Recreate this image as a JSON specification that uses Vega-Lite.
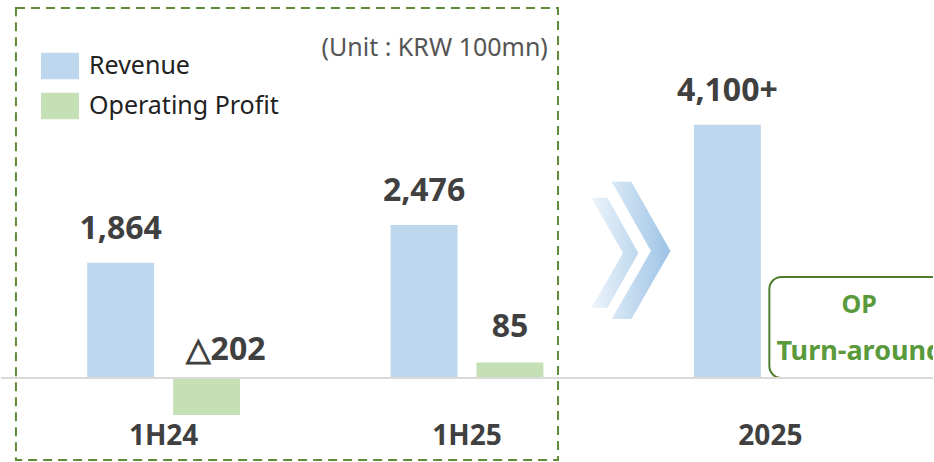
{
  "$schema": "https://vega.github.io/schema/vega-lite/v6.json",
  "width": 934,
  "height": 462,
  "autosize": {"type": "fit", "contains": "padding"},
  "padding": 0,
  "background": "white",
  "config": {"view": {"stroke": null}, "font": "Noto Sans"},
  "datasets": {
    "main": [
      {"period": "1H24", "series": "Revenue", "value": 1864, "label": "1,864"},
      {"period": "1H24", "series": "Operating Profit", "value": -202, "label": "△202"},
      {"period": "1H25", "series": "Revenue", "value": 2476, "label": "2,476"},
      {"period": "1H25", "series": "Operating Profit", "value": 85, "label": "85"},
      {"period": "2025", "series": "Revenue", "value": 4100, "label": "4,100+"}
    ]
  },
  "layer": [
    {
      "layer": [
        {
          "data": {"values": [{"name": "box"}]},
          "mark": {"type": "rect", "fillOpacity": 0, "stroke": "#5e8c3a", "strokeWidth": 2, "strokeDash": [9, 6]},
          "encoding": {
            "x": {"datum": "1H24", "type": "nominal", "bandPosition": -0.36},
            "x2": {"datum": "1H25", "bandPosition": 1.03},
            "y": {"datum": 5991, "type": "quantitative", "scale": {"domain": [-1360, 6120], "nice": false, "zero": false}, "axis": null},
            "y2": {"datum": -1328}
          }
        },
        {
          "data": {"values": [{"name": "chevron"}]},
          "mark": {
            "type": "point",
            "shape": "M-0.27,-0.99L0.01,-0.99L0.57,0L0.01,0.97L-0.27,0.97L0.29,0ZM-0.56,-0.76L-0.33,-0.76L0.11,0.03L-0.33,0.81L-0.56,0.81L-0.11,0.03Z",
            "size": 19600,
            "filled": true,
            "opacity": 1,
            "strokeWidth": 0,
            "fill": {"gradient": "linear", "x1": 0, "y1": 0, "x2": 1, "y2": 0, "stops": [{"offset": 0, "color": "#edf4fb"}, {"offset": 1, "color": "#9dc3e6"}]}
          },
          "encoding": {
            "x": {"datum": "2025", "type": "nominal", "bandPosition": -0.314},
            "y": {"datum": 2056, "type": "quantitative", "scale": {"domain": [-1360, 6120], "nice": false, "zero": false}, "axis": null}
          }
        },
        {
          "data": {"name": "main"},
          "transform": [{"filter": "datum.series === 'Revenue'"}],
          "mark": {"type": "bar"},
          "encoding": {
            "x": {
              "field": "period", "type": "nominal",
              "scale": {"domain": ["1H24", "1H25", "2025"], "paddingInner": 0.434, "paddingOuter": 0.253},
              "axis": {"orient": "bottom", "offset": -26, "domain": false, "ticks": false, "grid": false, "title": null, "labelAngle": 0, "labelAlign": "center", "bandPosition": 0.5, "labelPadding": 0, "labelBaseline": "middle", "labelFontSize": 28, "labelFontWeight": "bold", "labelColor": "#404040", "labelFont": "Noto Sans"}
            },
            "xOffset": {"field": "series", "type": "nominal", "scale": {"domain": ["Revenue", "Operating Profit"], "paddingInner": 0.221, "paddingOuter": 0.11}},
            "y": {"field": "value", "type": "quantitative", "scale": {"domain": [-1360, 6120], "nice": false, "zero": false}, "axis": null},
            "color": {
              "field": "series", "type": "nominal",
              "scale": {"domain": ["Revenue", "Operating Profit"], "range": ["#bdd7ee", "#c5e0b4"]},
              "legend": {"orient": "none", "legendX": 40, "legendY": 47, "title": null, "symbolType": "M-1,-0.7H1V0.7H-1Z", "symbolSize": 1444, "symbolStrokeWidth": 0, "symbolOpacity": 1, "labelFontSize": 25, "labelFont": "Noto Sans", "labelColor": "#222222", "labelOffset": 10, "rowPadding": 7, "labelLimit": 400}
            }
          }
        },
        {
          "data": {"name": "main"},
          "transform": [{"filter": "datum.series === 'Revenue'"}],
          "mark": {"type": "text", "fontSize": 32, "fontWeight": "bold", "color": "#404040", "baseline": "alphabetic", "dy": -24, "font": "Noto Sans"},
          "encoding": {
            "x": {"field": "period", "type": "nominal"},
            "xOffset": {"field": "series", "type": "nominal"},
            "y": {"field": "value", "type": "quantitative", "scale": {"domain": [-1360, 6120], "nice": false, "zero": false}, "axis": null},
            "text": {"field": "label"}
          }
        },
        {
          "data": {"values": [{"t": "(Unit : KRW 100mn)"}]},
          "mark": {"type": "text", "fontSize": 25, "color": "#555555", "align": "right", "baseline": "middle", "font": "Noto Sans"},
          "encoding": {
            "x": {"datum": "1H25", "type": "nominal", "bandPosition": 0.971},
            "y": {"datum": 5348, "type": "quantitative", "scale": {"domain": [-1360, 6120], "nice": false, "zero": false}, "axis": null},
            "text": {"field": "t"}
          }
        },
        {
          "data": {"values": [{"name": "opbox"}]},
          "mark": {"type": "rect", "fill": "white", "stroke": "#4f7d2e", "strokeWidth": 2, "cornerRadius": 12, "clip": true},
          "encoding": {
            "x": {"datum": "2025", "type": "nominal", "bandPosition": 0.494},
            "x2": {"datum": "2025", "bandPosition": 1.54},
            "y": {"datum": 1635, "type": "quantitative", "scale": {"domain": [-1360, 6120], "nice": false, "zero": false}, "axis": null},
            "y2": {"datum": 0}
          }
        },
        {
          "data": {"values": [{"t": "OP"}]},
          "mark": {"type": "text", "fontSize": 25, "fontWeight": "bold", "color": "#5a9a3c", "align": "center", "baseline": "middle", "font": "Noto Sans", "clip": true},
          "encoding": {
            "x": {"datum": "2025", "type": "nominal", "bandPosition": 1.017},
            "y": {"datum": 1182, "type": "quantitative", "scale": {"domain": [-1360, 6120], "nice": false, "zero": false}, "axis": null},
            "text": {"field": "t"}
          }
        },
        {
          "data": {"values": [{"t": "Turn-around"}]},
          "mark": {"type": "text", "fontSize": 27, "fontWeight": "bold", "color": "#5a9a3c", "align": "left", "baseline": "middle", "font": "Noto Sans", "clip": true},
          "encoding": {
            "x": {"datum": "2025", "type": "nominal", "bandPosition": 0.535},
            "y": {"datum": 421, "type": "quantitative", "scale": {"domain": [-1360, 6120], "nice": false, "zero": false}, "axis": null},
            "text": {"field": "t"}
          }
        }
      ]
    },
    {
      "layer": [
        {
          "data": {"name": "main"},
          "transform": [{"filter": "datum.series === 'Operating Profit'"}],
          "mark": {"type": "bar"},
          "encoding": {
            "x": {"field": "period", "type": "nominal"},
            "xOffset": {"field": "series", "type": "nominal"},
            "y": {"field": "value", "type": "quantitative", "scale": {"domain": [-459, 2066], "nice": false, "zero": false}, "axis": null},
            "color": {"field": "series", "type": "nominal"}
          }
        },
        {
          "data": {"name": "main"},
          "transform": [{"filter": "datum.series === 'Operating Profit' && datum.value > 0"}],
          "mark": {"type": "text", "fontSize": 32, "fontWeight": "bold", "color": "#404040", "baseline": "alphabetic", "dy": -25, "font": "Noto Sans"},
          "encoding": {
            "x": {"field": "period", "type": "nominal"},
            "xOffset": {"field": "series", "type": "nominal"},
            "y": {"field": "value", "type": "quantitative", "scale": {"domain": [-459, 2066], "nice": false, "zero": false}, "axis": null},
            "text": {"field": "label"}
          }
        },
        {
          "data": {"name": "main"},
          "transform": [{"filter": "datum.series === 'Operating Profit' && datum.value < 0"}],
          "mark": {"type": "text", "fontSize": 32, "fontWeight": "bold", "color": "#404040", "baseline": "alphabetic", "dy": -18, "dx": 19, "font": "Noto Sans"},
          "encoding": {
            "x": {"field": "period", "type": "nominal"},
            "xOffset": {"field": "series", "type": "nominal"},
            "y": {"datum": 0, "type": "quantitative", "scale": {"domain": [-459, 2066], "nice": false, "zero": false}, "axis": null},
            "text": {"field": "label"}
          }
        },
        {
          "data": {"values": [{"name": "zero"}]},
          "mark": {"type": "rule", "color": "#d9d9d9", "strokeWidth": 2},
          "encoding": {
            "y": {"datum": 0, "type": "quantitative", "scale": {"domain": [-459, 2066], "nice": false, "zero": false}, "axis": null}
          }
        }
      ]
    }
  ],
  "resolve": {"scale": {"y": "independent"}}
}
